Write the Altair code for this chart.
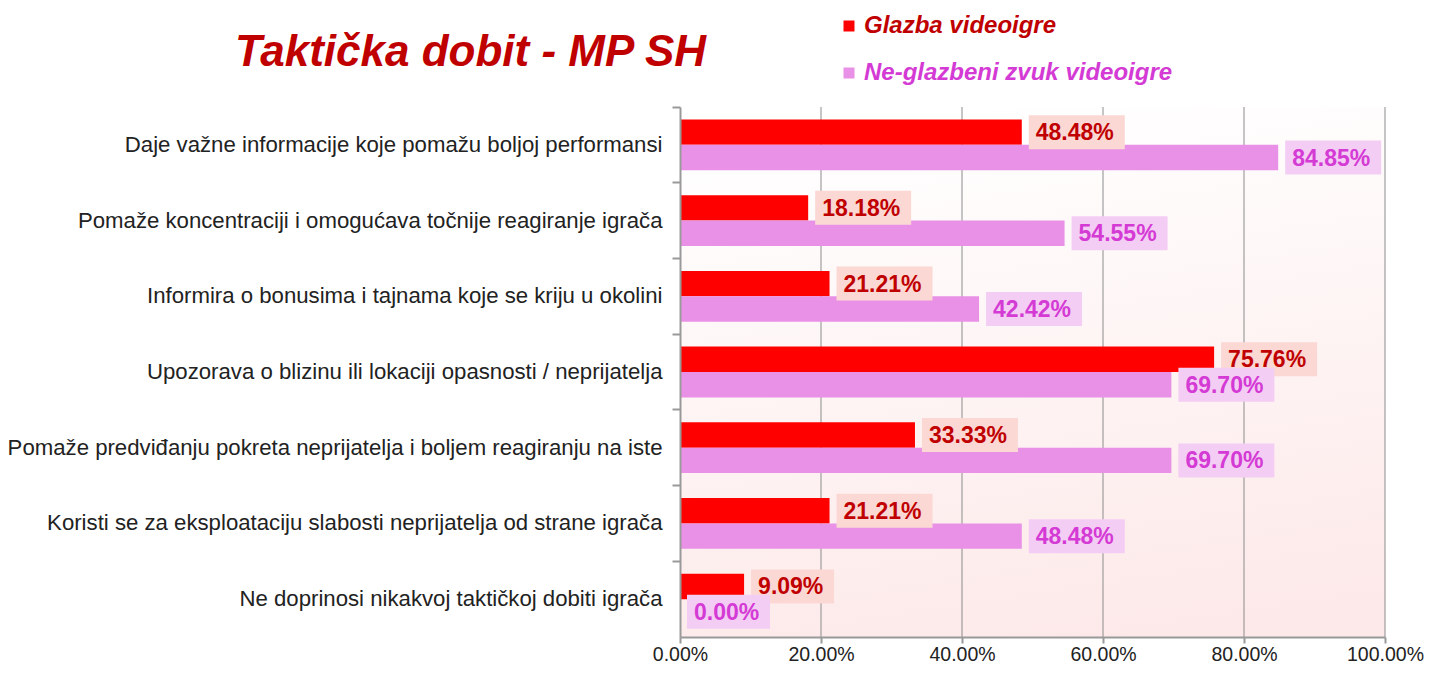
import altair as alt
import pandas as pd

categories = [
    "Daje važne informacije koje pomažu boljoj performansi",
    "Pomaže koncentraciji i omogućava točnije reagiranje igrača",
    "Informira o bonusima i tajnama koje se kriju u okolini",
    "Upozorava o blizinu ili lokaciji opasnosti / neprijatelja",
    "Pomaže predviđanju pokreta neprijatelja i boljem reagiranju na iste",
    "Koristi se za eksploataciju slabosti neprijatelja od strane igrača",
    "Ne doprinosi nikakvoj taktičkoj dobiti igrača",
]
series_names = ["Glazba videoigre", "Ne-glazbeni zvuk videoigre"]
glazba = [48.48, 18.18, 21.21, 75.76, 33.33, 21.21, 9.09]
neglazbeni = [84.85, 54.55, 42.42, 69.70, 69.70, 48.48, 0.00]
x_ticks = [0, 20, 40, 60, 80, 100]
grid_vals = [20, 40, 60, 80, 100]

rows = []
for s, vals in zip(series_names, [glazba, neglazbeni]):
    for c, v in zip(categories, vals):
        rows.append({"cat": c, "series": s, "v": v, "lbl": f"{v:.2f}%"})
df = pd.DataFrame(rows)

FONT = "Liberation Sans"
RED_TXT = "#c00000"
PINK_TXT = "#d43ad4"

y_enc = alt.Y("cat:N", sort=categories,
              scale=alt.Scale(paddingInner=0, paddingOuter=0),
              axis=alt.Axis(title=None, bandPosition=0, labelLimit=800,
                            labelFontSize=22.2, labelFont=FONT, labelColor="#222",
                            labelPadding=10, tickSize=8, tickColor="#999",
                            tickWidth=2, domainColor="#999", domainWidth=2,
                            grid=False, zindex=1))
yoff = alt.YOffset("series:N", sort=series_names,
                   scale=alt.Scale(paddingInner=0, paddingOuter=0.49))
x_enc = alt.X("v:Q", scale=alt.Scale(domain=[0, 100]),
              axis=alt.Axis(title=None, values=x_ticks,
                            labelExpr="format(datum.value, '.2f') + '%'",
                            labelFlush=False, labelFontSize=19.5, labelFont=FONT,
                            labelColor="#222", labelPadding=2,
                            tickSize=6, tickColor="#999", tickWidth=2,
                            domainColor="#999", domainWidth=2,
                            grid=False, zindex=1))

bg = alt.Chart(pd.DataFrame({"a": [0]})).mark_rect(
    color=alt.Gradient(gradient="linear", x1=0.4, y1=0, x2=0.6, y2=1,
                       stops=[alt.GradientStop(color="#ffffff", offset=0),
                              alt.GradientStop(color="#fde9e9", offset=1)])
).encode(x=alt.value(0), x2=alt.value("width"), y=alt.value(0), y2=alt.value("height"))

grid = alt.Chart(pd.DataFrame({"g": grid_vals})).mark_rule(
    color="#8c8c8c", strokeWidth=1
).encode(x=alt.X("g:Q"))

base = alt.Chart(df)

bars = base.mark_bar().encode(
    x=x_enc,
    y=y_enc,
    yOffset=yoff,
    color=alt.Color("series:N", sort=series_names,
                    scale=alt.Scale(domain=series_names, range=["#ff0000", "#e891e6"]),
                    legend=alt.Legend(title=None, orient="none", legendX=157, legendY=-93,
                                      symbolType="square", symbolSize=121,
                                      symbolStrokeWidth=0, labelFontSize=24,
                                      labelFont=FONT, labelFontWeight="bold",
                                      labelFontStyle="italic", labelOffset=3,
                                      rowPadding=23, padding=0, labelLimit=500,
                                      labelColor={"expr": "datum.label == 'Glazba videoigre' ? '#c00000' : '#d43ad4'"})),
)

boxes = base.mark_bar(height=34, xOffset=7,
                      x2Offset={"expr": "length(datum.lbl) > 5 ? 103 : 90"}).encode(
    x=alt.X("v:Q"),
    x2=alt.X2("v"),
    y=alt.Y("cat:N", sort=categories),
    yOffset=yoff,
    color=alt.condition(alt.datum.series == series_names[0],
                        alt.value("#fbd8d4"), alt.value("#f4cdf4")),
)

texts = base.mark_text(align="left", baseline="middle", dx=14, dy=1,
                       font=FONT, fontSize=23, fontWeight="bold").encode(
    x=alt.X("v:Q"),
    y=alt.Y("cat:N", sort=categories),
    yOffset=yoff,
    text="lbl:N",
    color=alt.condition(alt.datum.series == series_names[0],
                        alt.value(RED_TXT), alt.value(PINK_TXT)),
)

chart = alt.layer(bg, grid, bars, boxes, texts).properties(
    width=705, height=530,
    autosize=alt.AutoSizeParams(type="none"),
    padding={"left": 672, "top": 99, "right": 39, "bottom": 30},
    title=alt.TitleParams("Taktička dobit - MP SH", anchor="start", frame="group",
                          dx=-445, dy=96, offset=0, baseline="alphabetic",
                          fontSize=44, font=FONT, fontWeight="bold",
                          fontStyle="italic", color=RED_TXT),
).configure_view(stroke=None)

chart.save("out.html", embed_options={"renderer": "svg", "actions": False})
